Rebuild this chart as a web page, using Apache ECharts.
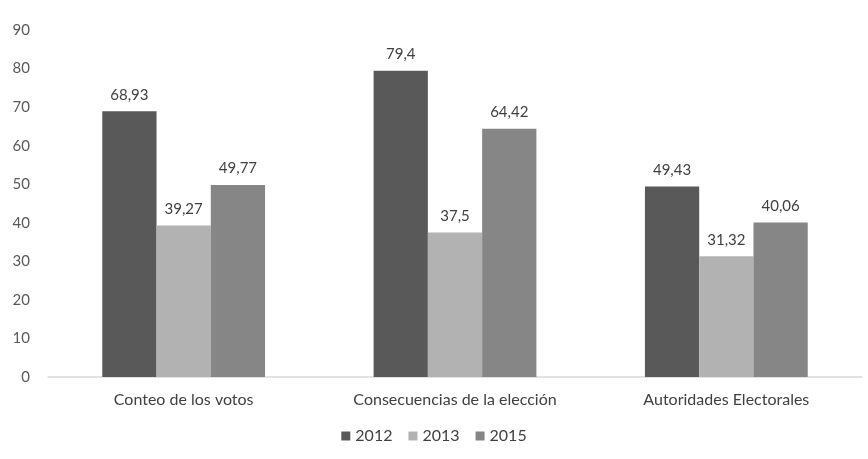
<!DOCTYPE html>
<html><head><meta charset="utf-8">
<script src="https://cdn.jsdelivr.net/npm/echarts@6/dist/echarts.min.js"></script>
<style>html,body{margin:0;padding:0;background:#fff}#c{width:868px;height:459px}</style>
</head><body><div id="c"></div>
<script>
const categories = ['Conteo de los votos', 'Consecuencias de la elección', 'Autoridades Electorales'];
const seriesNames = ['2012', '2013', '2015'];
const v2012 = [68.93, 79.4, 49.43];
const v2013 = [39.27, 37.5, 31.32];
const v2015 = [49.77, 64.42, 40.06];
const colors = ['#595959', '#b2b2b2', '#868686'];
const font = 'Lato, "Open Sans", sans-serif';
const fmt = p => String(p.value).replace('.', ',');
const mk = (name, data, color) => ({
  name, type: 'bar', data, barGap: '0%', barCategoryGap: '40%',
  itemStyle: { color },
  label: { show: true, position: 'top', distance: 9, formatter: fmt, color: '#404040', fontSize: 15, fontFamily: font }
});
const chart = echarts.init(document.getElementById('c'));
chart.setOption({
  animation: false,
  grid: { left: 48, right: 6, top: 30, bottom: 82 },
  legend: {
    bottom: 10, left: 'center', itemWidth: 9, itemHeight: 9, itemGap: 16,
    icon: 'rect', textStyle: { color: '#404040', fontSize: 16, fontFamily: font },
    data: seriesNames
  },
  xAxis: {
    type: 'category', data: categories,
    axisLine: { lineStyle: { color: '#d9d9d9', width: 1.5 } },
    axisTick: { show: false },
    axisLabel: { color: '#404040', fontSize: 16, fontFamily: font, margin: 15 }
  },
  yAxis: {
    type: 'value', min: 0, max: 90, interval: 10,
    splitLine: { show: false },
    axisLine: { show: false }, axisTick: { show: false },
    axisLabel: { color: '#595959', fontSize: 15, fontFamily: font, margin: 18 }
  },
  series: [mk(seriesNames[0], v2012, colors[0]), mk(seriesNames[1], v2013, colors[1]), mk(seriesNames[2], v2015, colors[2])]
});
</script></body></html>
